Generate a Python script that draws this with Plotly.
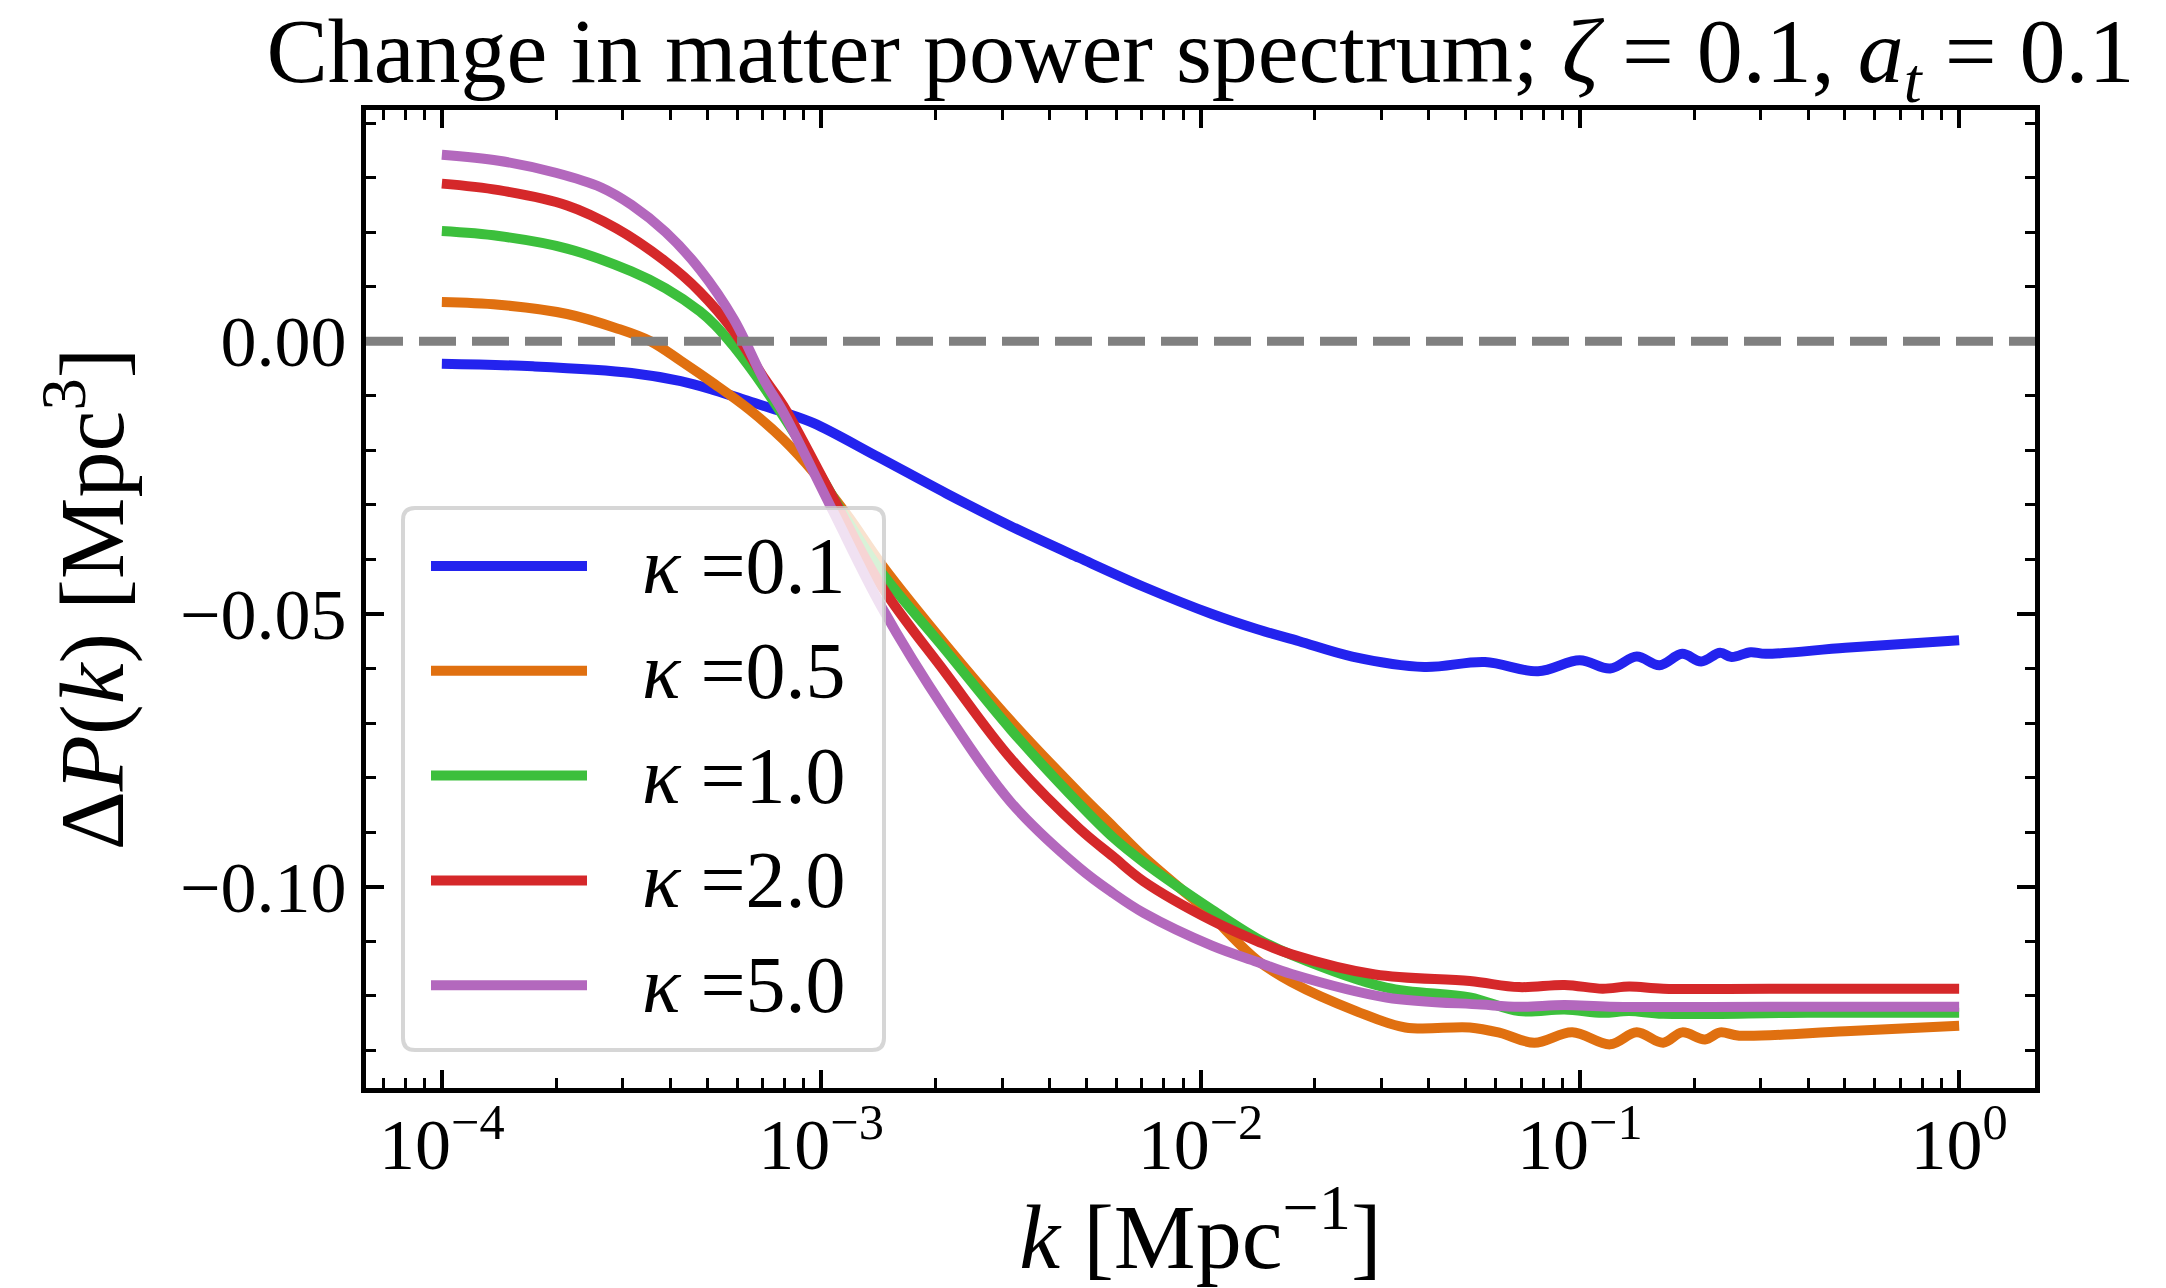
import plotly.graph_objects as go

# ---------------- data ----------------
kappa_labels = ["0.1", "0.5", "1.0", "2.0", "5.0"]
colors = ["#2323EE", "#E07010", "#3CBF3C", "#D5282A", "#B368BD"]

log10_k_01 = [-4.0, -3.76, -3.5, -3.37, -3.28, -3.19, -3.10, -3.02, -2.85, -2.67,
              -2.50, -2.32, -2.15, -1.97, -1.85, -1.74, -1.60, -1.41, -1.25, -1.11,
              -1.00, -0.92, -0.85, -0.79, -0.73, -0.68, -0.63, -0.60, -0.55, -0.51,
              -0.30, 0.0]
dP_01 = [-0.0041, -0.0046, -0.0058, -0.0073, -0.0090, -0.0110, -0.0130, -0.0150, -0.0212, -0.0279,
         -0.0339, -0.0397, -0.0450, -0.0500, -0.0528, -0.0550, -0.0578, -0.0597, -0.0588, -0.0605,
         -0.0585, -0.0600, -0.0578, -0.0594, -0.0573, -0.0587, -0.0571, -0.0579, -0.0570, -0.0573,
         -0.0562, -0.0548]

log10_k_05 = [-4.0, -3.85, -3.67, -3.54, -3.45, -3.37, -3.28, -3.19, -3.10, -3.02,
              -2.93, -2.84, -2.67, -2.50, -2.32, -2.23, -2.15, -2.05, -1.97, -1.93,
              -1.85, -1.76, -1.59, -1.46, -1.29, -1.21, -1.12, -1.02, -0.92, -0.85,
              -0.78, -0.73, -0.67, -0.63, -0.58, -0.30, 0.0]
dP_05 = [0.0072, 0.0067, 0.0050, 0.0024, 0.0000, -0.0036, -0.0079, -0.0125, -0.0180, -0.0240,
         -0.0320, -0.0410, -0.0558, -0.0696, -0.0828, -0.0890, -0.0945, -0.1005, -0.1052, -0.1082,
         -0.1135, -0.1175, -0.1228, -0.1258, -0.1258, -0.1268, -0.1286, -0.1267, -0.1289, -0.1267,
         -0.1286, -0.1267, -0.1280, -0.1267, -0.1273, -0.1265, -0.1255]

log10_k_10 = [-4.0, -3.85, -3.67, -3.50, -3.41, -3.32, -3.28, -3.23, -3.15, -3.02,
              -2.93, -2.84, -2.67, -2.50, -2.32, -2.23, -2.15, -1.97, -1.85, -1.76,
              -1.51, -1.29, -1.16, -1.04, -0.94, -0.87, -0.78, -0.40, 0.0]
dP_10 = [0.0202, 0.0193, 0.0170, 0.0128, 0.0097, 0.0055, 0.0030, -0.0010, -0.0085, -0.0225,
         -0.0330, -0.0425, -0.0568, -0.0712, -0.0848, -0.0910, -0.0955, -0.1042, -0.1095, -0.1125,
         -0.1185, -0.1203, -0.1228, -0.1225, -0.1231, -0.1228, -0.1233, -0.1231, -0.1231]

log10_k_20 = [-4.0, -3.85, -3.67, -3.54, -3.41, -3.32, -3.23, -3.15, -3.10, -2.97,
              -2.84, -2.67, -2.50, -2.32, -2.23, -2.15, -1.97, -1.85, -1.76, -1.54,
              -1.29, -1.16, -1.04, -0.94, -0.87, -0.78, -0.50, 0.0]
dP_20 = [0.0289, 0.0277, 0.0249, 0.0207, 0.0146, 0.0091, 0.0018, -0.0068, -0.0118, -0.0285,
         -0.0450, -0.0610, -0.0765, -0.0893, -0.0945, -0.0990, -0.1062, -0.1100, -0.1124, -0.1161,
         -0.1173, -0.1184, -0.1180, -0.1187, -0.1183, -0.1187, -0.1187, -0.1187]

log10_k_50 = [-4.0, -3.85, -3.70, -3.58, -3.50, -3.41, -3.32, -3.23, -3.15, -3.10,
              -2.97, -2.84, -2.67, -2.50, -2.32, -2.23, -2.15, -1.97, -1.85, -1.76,
              -1.51, -1.26, -1.16, -1.04, -0.92, -0.50, 0.0]
dP_50 = [0.0342, 0.0331, 0.0309, 0.0282, 0.0250, 0.0200, 0.0132, 0.0040, -0.0072, -0.0130,
         -0.0310, -0.0488, -0.0680, -0.0845, -0.0965, -0.1012, -0.1048, -0.1108, -0.1138, -0.1160,
         -0.1203, -0.1216, -0.1220, -0.1217, -0.1220, -0.1220, -0.1220]

x_tick_vals = [1e-4, 1e-3, 1e-2, 1e-1, 1e0]
x_tick_text = ["10<sup>−4</sup>", "10<sup>−3</sup>", "10<sup>−2</sup>", "10<sup>−1</sup>", "10<sup>0</sup>"]
y_tick_vals = [-0.10, -0.05, 0.00]
y_tick_text = ["−0.10", "−0.05", "0.00"]

title_text = "Change in matter power spectrum; <i>ζ</i> = 0.1, <i>a</i><sub><i>t</i></sub> = 0.1"
x_title = "<i>k</i> [Mpc<sup>−1</sup>]"
y_title = "Δ<i>P</i>(<i>k</i>) [Mpc<sup>3</sup>]"

# ---------------- layout constants ----------------
FONT = "Liberation Serif"
W, H = 2166, 1288
L, R, T, B = 366, 131, 110, 200
PW, PH = W - L - R, H - T - B
FS_TICK = 72
FS_LABEL = 92
FS_LEG = 80
LW = 10


def px_x(x):
    return (x - L) / PW


def px_y(y):
    return (H - B - y) / PH


fig = go.Figure()

series = [(log10_k_01, dP_01), (log10_k_05, dP_05), (log10_k_10, dP_10),
          (log10_k_20, dP_20), (log10_k_50, dP_50)]
for lab, col, (lk, dp) in zip(kappa_labels, colors, series):
    fig.add_trace(go.Scatter(
        x=[10 ** v for v in lk], y=dp, mode="lines",
        line=dict(color=col, width=LW, shape="spline", smoothing=1.0),
        name="κ =" + lab, showlegend=False, hoverinfo="skip"))

shapes = []
# dashed zero line
shapes.append(dict(type="line", xref="paper", x0=0, x1=1, yref="y", y0=0, y1=0,
                   line=dict(color="#808080", width=9, dash="37px,16px"), layer="above"))

# manual legend box (rounded)
bx0, bx1, by0, by1 = 403, 884, 508, 1050
rpx = 12
rx, ry = rpx / PW, rpx / PH
X0, X1 = px_x(bx0), px_x(bx1)
Y0, Y1 = px_y(by1), px_y(by0)  # paper bottom, top
path = (f"M {X0 + rx},{Y1} L {X1 - rx},{Y1} Q {X1},{Y1} {X1},{Y1 - ry} "
        f"L {X1},{Y0 + ry} Q {X1},{Y0} {X1 - rx},{Y0} "
        f"L {X0 + rx},{Y0} Q {X0},{Y0} {X0},{Y0 + ry} "
        f"L {X0},{Y1 - ry} Q {X0},{Y1} {X0 + rx},{Y1} Z")
shapes.append(dict(type="path", xref="paper", yref="paper", path=path,
                   fillcolor="rgba(255,255,255,0.8)",
                   line=dict(color="rgba(204,204,204,0.8)", width=4), layer="above"))

annotations = []
entry_y0, entry_dy = 566, 104.8
for i, (lab, col) in enumerate(zip(kappa_labels, colors)):
    yy = px_y(entry_y0 + i * entry_dy)
    shapes.append(dict(type="line", xref="paper", yref="paper",
                       x0=px_x(431), x1=px_x(587), y0=yy, y1=yy,
                       line=dict(color=col, width=LW), layer="above"))
    annotations.append(dict(xref="paper", yref="paper", x=px_x(640), y=yy,
                            xanchor="left", yanchor="middle", showarrow=False,
                            text="<i>κ</i> =" + lab,
                            font=dict(family=FONT, size=FS_LEG, color="black")))

axis_common = dict(showline=True, linewidth=5, linecolor="black", mirror="allticks",
                   ticks="inside", ticklen=18, tickwidth=4, tickcolor="black",
                   showgrid=False, zeroline=False,
                   tickfont=dict(family=FONT, size=FS_TICK, color="black"))

fig.update_layout(
    width=W, height=H,
    margin=dict(l=L, r=R, t=T, b=B, autoexpand=False),
    paper_bgcolor="white", plot_bgcolor="white",
    font=dict(family=FONT, size=FS_TICK, color="black"),
    title=dict(text=title_text, x=0.5, xref="paper", xanchor="center",
               y=1 - 50 / H, yref="container", yanchor="middle",
               font=dict(family=FONT, size=FS_LABEL, color="black")),
    xaxis=dict(type="log", range=[-4.2, 0.2], tickmode="array",
               tickvals=x_tick_vals, ticktext=x_tick_text, ticklabelstandoff=-10,
               minor=dict(ticks="inside", ticklen=10, tickwidth=3, tickcolor="black",
                          tickmode="array",
                          tickvals=[m * 10.0 ** e for e in range(-5, 1) for m in range(2, 10)]),
               title=dict(text=x_title, font=dict(family=FONT, size=FS_LABEL), standoff=5),
               **axis_common),
    yaxis=dict(range=[-0.1369, 0.0424], tickmode="array",
               tickvals=y_tick_vals, ticktext=y_tick_text,
               minor=dict(ticks="inside", ticklen=10, tickwidth=3, tickcolor="black",
                          dtick=0.01, tick0=0),
               title=dict(text=y_title, font=dict(family=FONT, size=FS_LABEL), standoff=27),
               **axis_common),
    shapes=shapes, annotations=annotations, showlegend=False,
)

fig.write_html("out.html")
